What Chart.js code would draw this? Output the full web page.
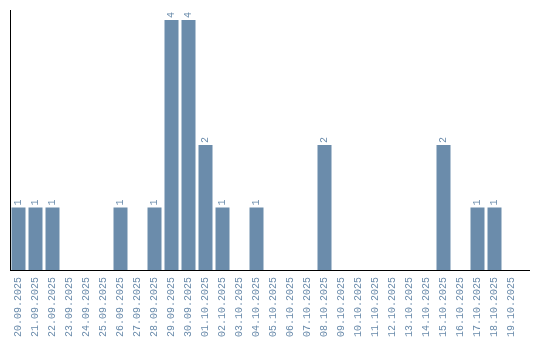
<!DOCTYPE html>
<html>
<head>
<meta charset="utf-8">
<script src="https://cdn.jsdelivr.net/npm/chart.js@4/dist/chart.umd.min.js"></script>
<style>
html,body{margin:0;padding:0;background:#fff;}
#wrap{width:540px;height:340px;position:relative;}
</style>
</head>
<body>
<div id="wrap"><canvas id="c" width="540" height="340"></canvas></div>
<script>
const categories = ["20.09.2025","21.09.2025","22.09.2025","23.09.2025","24.09.2025","25.09.2025","26.09.2025","27.09.2025","28.09.2025","29.09.2025","30.09.2025","01.10.2025","02.10.2025","03.10.2025","04.10.2025","05.10.2025","06.10.2025","07.10.2025","08.10.2025","09.10.2025","10.10.2025","11.10.2025","12.10.2025","13.10.2025","14.10.2025","15.10.2025","16.10.2025","17.10.2025","18.10.2025","19.10.2025"];
const counts = [1,1,1,0,0,0,1,0,1,4,4,2,1,0,1,0,0,0,2,0,0,0,0,0,0,2,0,1,1,0];

const barColor = '#6b8cab';
const labelColor = '#6a8bab';

const valueLabels = {
  id: 'valueLabels',
  afterDatasetsDraw(chart) {
    const ctx = chart.ctx;
    const meta = chart.getDatasetMeta(0);
    ctx.save();
    ctx.fillStyle = labelColor;
    ctx.font = '10px "Liberation Mono", monospace';
    ctx.textAlign = 'left';
    ctx.textBaseline = 'middle';
    meta.data.forEach((el, i) => {
      const v = chart.data.datasets[0].data[i];
      if (!v) return;
      ctx.save();
      ctx.translate(el.x, el.y - 2);
      ctx.rotate(-Math.PI / 2);
      ctx.fillText(String(v), 0, 0);
      ctx.restore();
    });
    ctx.restore();
  }
};

const baseLine = {
  id: 'baseLine',
  afterDatasetsDraw(chart) {
    const ctx = chart.ctx;
    const a = chart.chartArea;
    ctx.save();
    ctx.strokeStyle = '#000';
    ctx.lineWidth = 1;
    ctx.beginPath();
    ctx.moveTo(a.left, Math.round(a.bottom) + 0.5);
    ctx.lineTo(a.right + 10, Math.round(a.bottom) + 0.5);
    ctx.stroke();
    ctx.restore();
  }
};

new Chart(document.getElementById('c'), {
  type: 'bar',
  data: {
    labels: categories,
    datasets: [{
      data: counts,
      backgroundColor: barColor,
      borderWidth: 0,
      barPercentage: 14/17,
      categoryPercentage: 1
    }]
  },
  options: {
    responsive: false,
    animation: false,
    layout: { padding: { left: 10, top: 10, right: 20, bottom: -4 } },
    plugins: { legend: { display: false }, tooltip: { enabled: false } },
    scales: {
      x: {
        grid: { display: false, drawTicks: false },
        border: { display: false },
        ticks: {
          color: labelColor,
          font: { family: '"Liberation Mono", monospace', size: 10 },
          minRotation: 90, maxRotation: 90,
          autoSkip: false,
          padding: 7
        }
      },
      y: {
        min: 0, max: 4.16,
        grid: { display: false, drawTicks: false },
        border: { display: true, color: '#000', width: 1 },
        ticks: { display: false }
      }
    }
  },
  plugins: [valueLabels, baseLine]
});
</script>
</body>
</html>
